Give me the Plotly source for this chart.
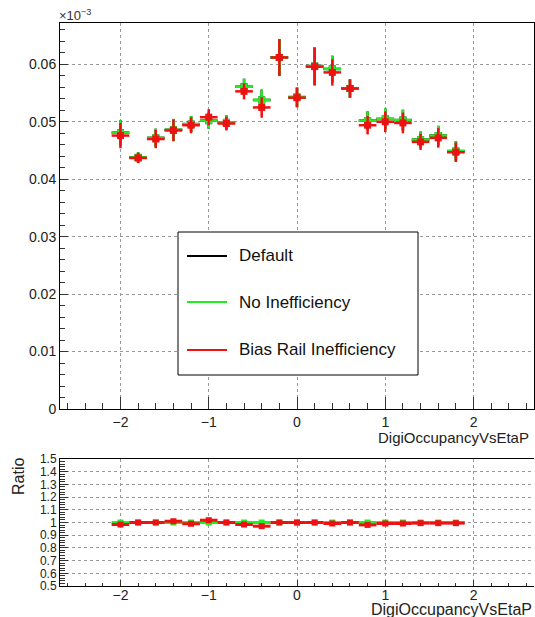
import plotly.graph_objects as go

# ---------------- data ----------------
eta = [-2.0, -1.8, -1.6, -1.4, -1.2, -1.0, -0.8, -0.6, -0.4, -0.2,
       0.0, 0.2, 0.4, 0.6, 0.8, 1.0, 1.2, 1.4, 1.6, 1.8]
half_width = [0.1] * 20

default_vals = [0.0481, 0.0438, 0.0472, 0.0486, 0.0496, 0.0502, 0.0499, 0.0561, 0.0538, 0.0612,
                0.0543, 0.0597, 0.0592, 0.0558, 0.0502, 0.0505, 0.0503, 0.0469, 0.0476, 0.0449]
no_ineff_vals = [0.0481, 0.0438, 0.0472, 0.0486, 0.0496, 0.0502, 0.0499, 0.0561, 0.0538, 0.0612,
                 0.0543, 0.0597, 0.0592, 0.0558, 0.0502, 0.0505, 0.0503, 0.0469, 0.0476, 0.0449]
bias_rail_vals = [0.0476, 0.0437, 0.0470, 0.0485, 0.0494, 0.0508, 0.0497, 0.0553, 0.0525, 0.0612,
                  0.0542, 0.0596, 0.0586, 0.0558, 0.0494, 0.0500, 0.0498, 0.0465, 0.0472, 0.0447]
stat_err = [0.0022, 0.0009, 0.0016, 0.0019, 0.0014, 0.0014, 0.0012, 0.0014, 0.0018, 0.0032,
            0.0017, 0.0033, 0.0023, 0.0016, 0.0016, 0.0018, 0.0018, 0.0014, 0.0017, 0.0017]

ratio_no_ineff = [1.0] * 20
ratio_bias_rail = [0.984, 1.0, 1.0, 1.010, 0.990, 1.018, 1.0, 0.984, 0.971, 1.0,
                   1.0, 1.0, 0.992, 1.0, 0.981, 0.992, 0.992, 0.995, 0.995, 0.995]

ratio_tickvals = [0.5, 0.6, 0.7, 0.8, 0.9, 1.0, 1.1, 1.2, 1.3, 1.4, 1.5]
ratio_ticktext = ["0.5", "0.6", "0.7", "0.8", "0.9", "1", "1.1", "1.2", "1.3", "1.4", "1.5"]

series_names = ["Default", "No Inefficiency", "Bias Rail Inefficiency"]
series_colors = ["#000000", "#22ee22", "#ee1111"]

FONT = "Liberation Sans, Arial, sans-serif"

# ---------------- geometry helpers (pixel -> paper) ----------------
W, H = 535, 617
ML, MR, MT, MB = 60, 1, 23, 31
PW = W - ML - MR
PH = H - MT - MB


def px(x):
    return (x - ML) / PW


def py(y):
    return (H - MB - y) / PH


fig = go.Figure()

# ---------------- top panel ----------------
for name, vals, col in zip(series_names, [default_vals, no_ineff_vals, bias_rail_vals], series_colors):
    fig.add_trace(go.Scatter(
        x=eta, y=vals, mode="markers", name=name, showlegend=False,
        marker=dict(symbol="square", size=7, color=col),
        error_x=dict(type="data", array=half_width, thickness=2.5, width=0, color=col),
        error_y=dict(type="data", array=stat_err, thickness=2.5, width=0, color=col),
        xaxis="x", yaxis="y",
    ))

# ---------------- ratio panel ----------------
for name, vals, col in zip(series_names[1:], [ratio_no_ineff, ratio_bias_rail], series_colors[1:]):
    fig.add_trace(go.Scatter(
        x=eta, y=vals, mode="markers", name=name, showlegend=False,
        marker=dict(symbol="square", size=6, color=col),
        error_x=dict(type="data", array=half_width, thickness=3, width=0, color=col),
        xaxis="x2", yaxis="y2",
    ))

xrange = [-2.685, 2.685]
top_dom = [py(409), 1.0]
bot_dom = [0.0, py(459)]

common_axis = dict(showline=True, linecolor="#000000", linewidth=1, zeroline=False,
                   showgrid=True, gridcolor="#999999", griddash="dot", gridwidth=1,
                   tickfont=dict(family=FONT, size=14, color="#222222"))

fig.update_layout(
    width=W, height=H,
    margin=dict(l=ML, r=MR, t=MT, b=MB),
    paper_bgcolor="white", plot_bgcolor="white",
    font=dict(family=FONT, color="#222222"),
    showlegend=False,
    xaxis=dict(domain=[0, 1], range=xrange, anchor="y", dtick=1, tick0=0,
               ticks="inside", ticklen=12, tickcolor="#333333", mirror=True,
               minor=dict(ticks="inside", dtick=0.2, tick0=0, ticklen=6, tickcolor="#333333", showgrid=False),
               **common_axis),
    yaxis=dict(domain=top_dom, range=[0, 0.0672], anchor="x", dtick=0.01, tick0=0,
               ticks="inside", ticklen=8, tickcolor="#333333", mirror=True,
               minor=dict(ticks="inside", dtick=0.002, tick0=0, ticklen=5, tickcolor="#333333", showgrid=False),
               **common_axis),
    xaxis2=dict(domain=[0, 1], range=xrange, anchor="y2", dtick=1, tick0=0,
                ticks="inside", ticklen=6, tickcolor="#333333", mirror=True, ticklabelstandoff=-4,
                minor=dict(ticks="inside", dtick=0.2, tick0=0, ticklen=3, tickcolor="#333333", showgrid=False),
                **common_axis),
    yaxis2=dict(domain=bot_dom, range=[0.5, 1.5], anchor="x2",
                tickmode="array", tickvals=ratio_tickvals, ticktext=ratio_ticktext,
                ticks="inside", ticklen=8, tickcolor="#333333", mirror=False,
                minor=dict(ticks="inside", dtick=0.02, tick0=0.5, ticklen=5, tickcolor="#333333", showgrid=False),
                showline=True, linecolor="#000000", linewidth=1, zeroline=False,
                showgrid=True, gridcolor="#999999", griddash="dot", gridwidth=1,
                tickfont=dict(family=FONT, size=12, color="#222222")),
)

annotations = [
    dict(x=px(57), y=py(15), xref="paper", yref="paper", xanchor="left", yanchor="middle",
         text="×10<sup>−3</sup>", showarrow=False, font=dict(family=FONT, size=13, color="#333333")),
    dict(x=px(531), y=py(437), xref="paper", yref="paper", xanchor="right", yanchor="middle",
         text="DigiOccupancyVsEtaP", showarrow=False, font=dict(family=FONT, size=15, color="#222222")),
    dict(x=px(534), y=py(609), xref="paper", yref="paper", xanchor="right", yanchor="middle",
         text="DigiOccupancyVsEtaP", showarrow=False, font=dict(family=FONT, size=16, color="#222222")),
    dict(x=px(18), y=py(477), xref="paper", yref="paper", xanchor="center", yanchor="middle",
         text="Ratio", textangle=-90, showarrow=False, font=dict(family=FONT, size=16, color="#222222")),
]

shapes = [
    dict(type="rect", xref="paper", yref="paper", x0=px(178), x1=px(418), y0=py(375), y1=py(232),
         fillcolor="white", line=dict(color="#000000", width=1), layer="above"),
]

legend_rows = [256, 302, 350]
for name, col, yrow in zip(series_names, series_colors, legend_rows):
    shapes.append(dict(type="line", xref="paper", yref="paper", x0=px(187), x1=px(227),
                       y0=py(yrow), y1=py(yrow), line=dict(color=col, width=2), layer="above"))
    annotations.append(dict(x=px(237), y=py(yrow), xref="paper", yref="paper", xanchor="left",
                            yanchor="middle", text=name, showarrow=False,
                            font=dict(family=FONT, size=17, color="#111111")))

fig.update_layout(annotations=annotations, shapes=shapes)

fig.write_html("out.html", config={"displayModeBar": False},
               post_script="document.body.style.margin='0';document.body.style.overflow='hidden';")
